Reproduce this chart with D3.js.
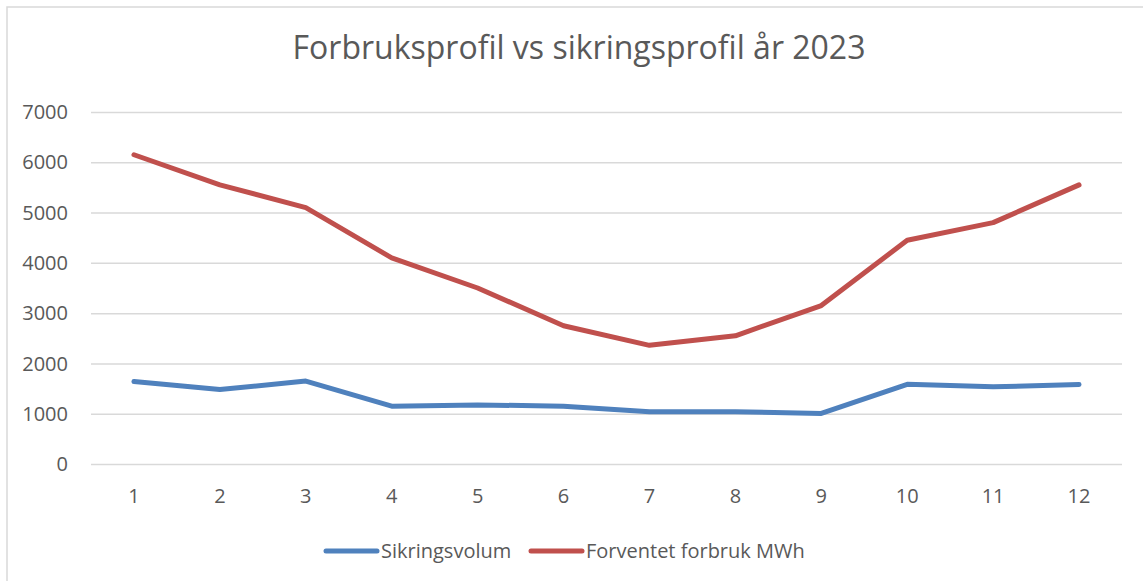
<!DOCTYPE html>
<html lang="no">
<head>
<meta charset="utf-8">
<title>Forbruksprofil vs sikringsprofil</title>
<script src="https://d3js.org/d3.v7.min.js"></script>
<style>
  body{margin:0;background:#fff;font-family:"Open Sans",sans-serif;}
  svg text{fill:#595959;}
</style>
</head>
<body>
<div id="chart"></div>
<script>
// data
var months = [1,2,3,4,5,6,7,8,9,10,11,12]
var sikringsvolum = [1640,1480,1650,1150,1175,1150,1040,1040,1005,1585,1535,1580]
var forventetForbruk = [6150,5550,5100,4100,3500,2750,2360,2550,3150,4450,4800,5550]
var yTicks = [0,1000,2000,3000,4000,5000,6000,7000]
var seriesNames = ["Sikringsvolum","Forventet forbruk MWh"]
var seriesColors = ["#4F81BD","#C0504D"]

var w = 1143, h = 581
var m = {left:91, right:21, top:112, bottom:117}

var svg = d3.select("#chart").append("svg")
    .attr("width", w).attr("height", h)

// outer chart border (only left/top visible in the crop)
svg.append("rect")
    .attr("x", 7).attr("y", 7)
    .attr("width", w + 20).attr("height", h + 20)
    .attr("fill", "none").attr("stroke", "#D9D9D9").attr("stroke-width", 1.5)

svg.append("text")
    .attr("x", 579).attr("y", 59)
    .attr("text-anchor", "middle")
    .style("font-size", "32px")
    .text("Forbruksprofil vs sikringsprofil år 2023")

var xScale = d3.scaleBand().domain(months).range([m.left, w - m.right])
var yScale = d3.scaleLinear().domain([0,7000]).range([h - m.bottom, m.top])

// gridlines
svg.append("g")
    .attr("transform", "translate(" + m.left + ",0)")
    .call(d3.axisLeft(yScale).tickValues(yTicks).tickSize(-(w - m.left - m.right)).tickFormat(""))
    .call(function(g){
        g.select(".domain").remove()
        g.selectAll("line").attr("stroke", "#D9D9D9").attr("stroke-width", 1.5)
    })

// y labels
svg.append("g").selectAll("text")
    .data(yTicks).enter().append("text")
    .attr("x", 68)
    .attr("y", function(d){ return yScale(d) })
    .attr("dy", "0.36em")
    .attr("text-anchor", "end")
    .style("font-size", "20px")
    .text(function(d){ return d })

// x labels
svg.append("g").selectAll("text")
    .data(months).enter().append("text")
    .attr("x", function(d){ return xScale(d) + xScale.bandwidth()/2 })
    .attr("y", 503)
    .attr("text-anchor", "middle")
    .style("font-size", "20px")
    .text(function(d){ return d })

var line = d3.line()
    .x(function(d,i){ return xScale(months[i]) + xScale.bandwidth()/2 })
    .y(function(d){ return yScale(d) })

var series = [sikringsvolum, forventetForbruk]
svg.selectAll(".series")
    .data(series).enter().append("path")
    .attr("class", "series")
    .attr("d", line)
    .attr("fill", "none")
    .attr("stroke", function(d,i){ return seriesColors[i] })
    .attr("stroke-width", 5)
    .attr("stroke-linecap", "round")
    .attr("stroke-linejoin", "round")

// legend
var legendX = [326, 531]
var lg = svg.append("g").selectAll("g")
    .data(seriesNames).enter().append("g")
    .attr("transform", function(d,i){ return "translate(" + legendX[i] + ",551)" })
lg.append("line")
    .attr("x1", 0).attr("x2", 51)
    .attr("stroke", function(d,i){ return seriesColors[i] })
    .attr("stroke-width", 5)
    .attr("stroke-linecap", "round")
lg.append("text")
    .attr("x", 55).attr("dy", "0.36em")
    .style("font-size", "20px")
    .text(function(d){ return d })
</script>
</body>
</html>
